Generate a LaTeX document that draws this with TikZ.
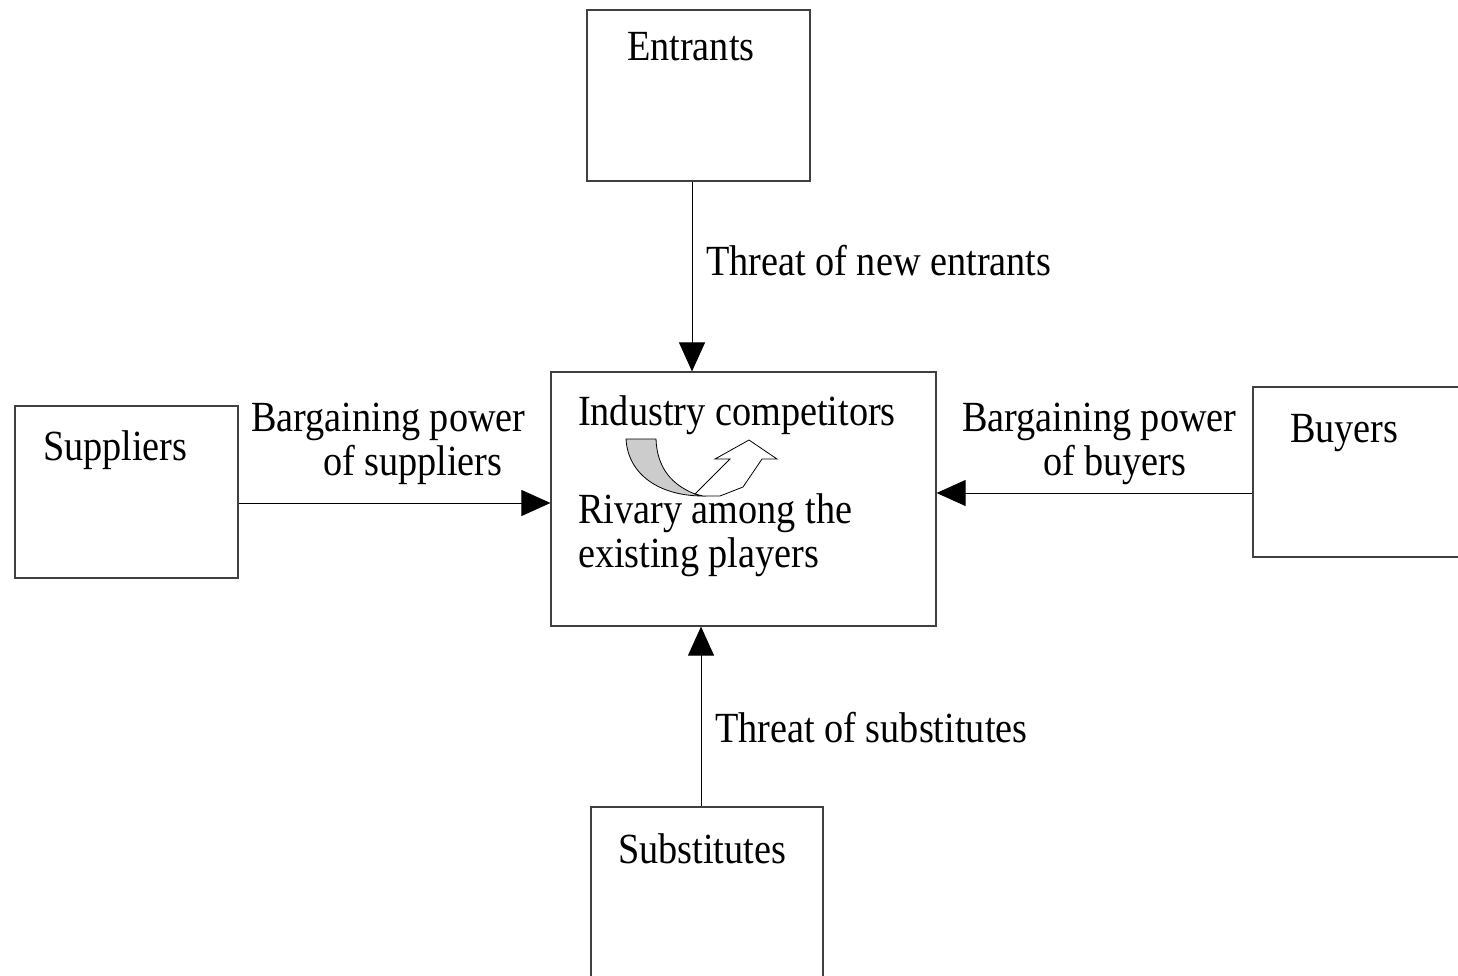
\documentclass[tikz,border=0pt]{standalone}
\usepackage{fontspec}
\setmainfont{Liberation Serif}[FakeStretch=0.89]
\usetikzlibrary{arrows.meta}
\begin{document}
\begin{tikzpicture}[x=1pt,y=-1pt,
  box/.style={draw=black!75, line width=1.2pt, rectangle, inner sep=0pt},
  conn/.style={draw=black, line width=1pt, -{Triangle[length=29pt,width=26pt]}},
  txt/.style={anchor=base west, inner sep=0pt, outer sep=0pt, align=left,
    font=\fontsize{43}{44}\selectfont}]
\useasboundingbox (0,0) rectangle (1458,976);
\clip (0,0) rectangle (1458,976);

% the five forces boxes
\node[box, minimum width=385pt, minimum height=254pt] (core) at (743.5,499) {};
\node[box, minimum width=223pt, minimum height=171pt] (ent) at (698.5,95.5) {};
\node[box, minimum width=223pt, minimum height=172pt] (sup) at (126.5,492) {};
\node[box, minimum width=223pt, minimum height=170pt] (buy) at (1364.5,472) {};
\node[box, minimum width=232pt, minimum height=172pt] (sub) at (707,893) {};

% box titles (multi-line nodes sit on the baseline of their last line)
\node[txt] (entT) at (627,61) {Entrants};
\node[txt] (supT) at (43,460) {Suppliers};
\node[txt] (buyT) at (1290,442) {Buyers};
\node[txt] (subT) at (618,863) {Substitutes};
\node[txt] (indT) at (578,425) {Industry competitors};
\node[txt] (rivT) at (578,567) {Rivary among the\\existing players};

% forces
\draw[conn] ([xshift=-6.5pt]ent.south) -- ([xshift=-6.5pt]ent.south |- core.north);
\draw[conn] ([xshift=-6pt]sub.north) -- ([xshift=-6pt]sub.north |- core.south);
\draw[conn] ([yshift=-11pt]sup.east) -- ([yshift=-11pt]sup.east -| core.west);
\draw[conn] ([yshift=-21pt]buy.west) -- ([yshift=-21pt]buy.west -| core.east);

% force labels
\node[txt] (entL) at (706,276) {Threat of new entrants};
\node[txt] (subL) at (715,742) {Threat of substitutes};
\node[txt] (supL) at (251,475) {Bargaining power\\\hspace*{72pt}of suppliers};
\node[txt] (buyL) at (962,475) {Bargaining power\\\hspace*{81pt}of buyers};

% rivalry u-turn arrow
\draw[line width=0.8pt, fill=black!20]
  (626,439) -- (656,439) .. controls (657,468) and (672,485) .. (695,494)
  -- (703,496) .. controls (660,496) and (628,475) .. cycle;
\draw[line width=0.8pt, fill=white, line join=miter]
  (695,494) -- (730,459) -- (715,459) -- (749,440) -- (777,459) -- (762,459)
  -- (743,487) -- (720,496) -- (703,496) -- cycle;
\end{tikzpicture}
\end{document}
